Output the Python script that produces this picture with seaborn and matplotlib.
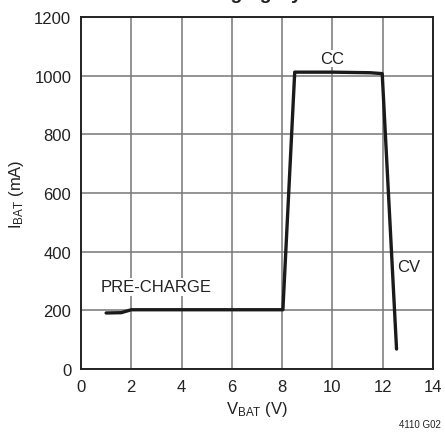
import matplotlib
matplotlib.use("Agg")
import matplotlib.pyplot as plt
import seaborn as sns
import pandas as pd

# Data
v_bat = [1.0, 1.6, 2.0, 4.0, 6.0, 8.03, 8.5, 10.0, 11.5, 11.98, 12.55]
i_bat = [191, 192, 202, 202, 202, 202, 1012, 1012, 1010, 1007, 68]

x_ticks = [0, 2, 4, 6, 8, 10, 12, 14]
y_ticks = [0, 200, 400, 600, 800, 1000, 1200]

sns.set_theme(style="white")
plt.rcParams['font.family'] = ['Liberation Sans Narrow', 'Liberation Sans', 'DejaVu Sans']
plt.rcParams['mathtext.default'] = 'regular'

df = pd.DataFrame({"V": v_bat, "I": i_bat})

fig = plt.figure(figsize=(4.45, 4.35), dpi=100)
ax = fig.add_axes([81/445, 1 - 370/435, (433 - 81)/445, (370 - 18)/435])

sns.lineplot(data=df, x="V", y="I", ax=ax, color="#1a1a1a", linewidth=2.4,
             sort=False, estimator=None)

ax.set_xlim(0, 14)
ax.set_ylim(0, 1200)
ax.set_xticks(x_ticks)
ax.set_yticks(y_ticks)
ax.tick_params(axis='both', length=0, labelsize=12, colors="#222222", pad=7)
ax.grid(True, color="#777777", linewidth=1.1)
for s in ax.spines.values():
    s.set_color("#222222")
    s.set_linewidth(1.4)

ax.set_xlabel(r"V$_{BAT}$ (V)", fontsize=12, color="#222222", labelpad=4)
ax.set_ylabel(r"I$_{BAT}$ (mA)", fontsize=12, color="#222222", labelpad=6)

ax.text(3.0, 280, "PRE-CHARGE", fontsize=12, ha="center", va="center", color="#222222",
        bbox=dict(facecolor="white", edgecolor="none", pad=1))
ax.text(10.0, 1058, "CC", fontsize=12, ha="center", va="center", color="#222222",
        bbox=dict(facecolor="white", edgecolor="none", pad=1))
ax.text(13.05, 350, "CV", fontsize=12, ha="center", va="center", color="#222222",
        bbox=dict(facecolor="white", edgecolor="none", pad=1))

fig.text(257/445, 1 + 1/435, "Charging Cycle", fontsize=14, fontweight="bold",
         ha="center", va="baseline", color="#222222")
fig.text(441/445, 1 - 425/435, "4110 G02", fontsize=7, ha="right", va="center",
         color="#222222")

fig.savefig("out.png", dpi=100)
